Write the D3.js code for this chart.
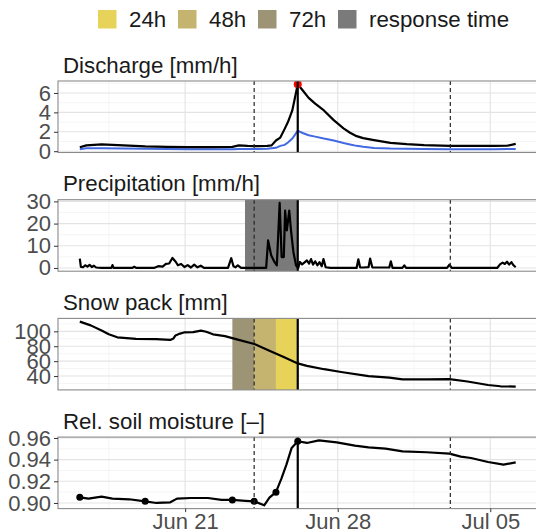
<!DOCTYPE html>
<html>
<head>
<meta charset="utf-8">
<script src="https://cdn.jsdelivr.net/npm/d3@7"></script>
<style>
  body { margin: 0; background: #fff; }
  svg { display: block; font-family: "Liberation Sans", Arial, sans-serif; }
</style>
</head>
<body>
<div id="chart"></div>
<script>
// event peak, every time below is given in days relative to it
var PEAK = new Date(2021, 5, 26, 4);

// discharge [mm/h]: observed (black) and simulated (blue)
var qT   = [-10, -9.7, -9, -8, -7, -6, -5, -4, -3, -2.7, -2.3, -1.8, -1.4, -1.2, -1.0, -0.8, -0.6, -0.45, -0.25, 0,
            0.25, 0.5, 0.8, 1.2, 1.65, 2.1, 2.4, 2.7, 3.0, 3.5, 4.25, 5, 5.8, 7, 8, 9, 9.6, 10];
var qObs = [0.4, 0.6, 0.7, 0.6, 0.5, 0.45, 0.42, 0.42, 0.45, 0.6, 0.55, 0.52, 0.55, 0.6, 1.1, 1.4, 2.3, 3.0, 4.2, 6.9,
            6.2, 5.5, 4.9, 4.2, 3.2, 2.35, 1.9, 1.55, 1.35, 1.14, 0.86, 0.72, 0.62, 0.55, 0.55, 0.55, 0.56, 0.76];
var qSim = [0.2, 0.3, 0.3, 0.28, 0.25, 0.22, 0.2, 0.2, 0.2, 0.22, 0.22, 0.22, 0.25, 0.3, 0.35, 0.55, 0.65, 0.9, 1.3, 2.1,
            1.85, 1.65, 1.5, 1.3, 1.1, 0.85, 0.7, 0.55, 0.45, 0.34, 0.27, 0.24, 0.22, 0.2, 0.2, 0.2, 0.22, 0.22];

// precipitation [mm/h]
var pT = [-10, -9.95, -9.85, -9.75, -9.65, -9.55, -9.45, -9.35, -9.25, -9.0, -8.55, -8.5, -8.45, -7.6, -7.5, -7.4,
          -6.6, -6.4, -6.2, -6.05, -5.9, -5.75, -5.6, -5.5, -5.35, -5.2, -5.05, -4.9, -4.75, -4.6, -4.45, -4.3,
          -3.2, -3.05, -2.95, -2.85, -2.75, -2.6, -1.45, -1.36, -1.22, -1.07, -0.96, -0.83, -0.74, -0.64, -0.58,
          -0.5, -0.39, -0.31, -0.2, -0.08, 0.02, 0.1, 0.2, 0.3, 0.42, 0.52, 0.61, 0.7, 0.8, 0.9, 1.0, 1.1, 1.18,
          1.28, 1.5, 2.7, 2.78, 2.86, 3.0, 3.25, 3.32, 3.42, 3.6, 4.2, 4.27, 4.35, 4.8, 4.89, 4.97, 6.85, 6.96,
          7.06, 9.15, 9.28, 9.4, 9.5, 9.6, 9.7, 9.8, 9.9, 10];
var pV = [4.2, 0.5, 0.3, 1.2, 0.6, 1.4, 0.4, 1.0, 0.2, 0, 0, 1.3, 0, 0, 0.5, 0,
          0, 0.8, 0.6, 1.8, 2.0, 4.5, 2.8, 1.2, 1.8, 0.4, 1.3, 0.2, 1.5, 0.3, 1.0, 0,
          0, 4.4, 0.8, 0.3, 1.2, 0, 0, 12.4, 5.7, 2.7, 1.2, 29.3, 4.9, 4.9, 25.8,
          16.9, 25.8, 16.9, 7.2, 1.2, 0, 2.7, 1.6, 2.4, 3.4, 2.0, 4.0, 1.5, 3.0, 1.2, 2.6, 0.8, 4.0,
          0.3, 0, 0, 3.9, 0.3, 0.2, 0.4, 4.2, 0.3, 0.2, 0.2, 3.0, 0, 0, 1.2, 0, 0, 1.5,
          0, 0, 1.6, 2.4, 1.8, 2.8, 1.5, 2.6, 1.2, 0.3];

// snow pack [mm]
var sT = [-10, -9.5, -9, -8.67, -8.28, -7.42, -6.5, -5.85, -5.7, -5.61, -5.4, -5.22, -4.8, -4.44, -4.2, -3.89, -3.34,
          -2.71, -1.99, -1.3, -0.67, 0, 0.42, 1.21, 1.99, 3.25, 4.2, 4.81, 5.91, 6.96, 7.79, 8.73, 9.3, 10];
var sV = [113, 108, 101, 96, 92, 90, 89.5, 88.5, 90.5, 94.5, 97, 98.5, 99, 101, 99.5, 96, 93.6,
          88.5, 83, 74, 66, 57, 53.7, 49.2, 45.5, 40, 38, 35.5, 35.5, 35.9, 32.7, 28, 26.3, 25.8];

// relative soil moisture [-]
var mT = [-10, -9.6, -9, -8.5, -7.73, -7, -6.48, -5.85, -5.54, -4.9, -4.12, -3.5, -3, -2.4, -2, -1.54, -1.3, -1,
          -0.75, -0.52, -0.28, 0, 0.42, 0.97, 1.79, 2.62, 3.25, 4.03, 4.81, 5.91, 6.96, 7.48, 7.95, 8.73, 9.44, 10];
var mV = [0.9052, 0.904, 0.9058, 0.904, 0.9034, 0.9015, 0.9, 0.9006, 0.904, 0.9046, 0.9046, 0.9028, 0.9028, 0.902,
          0.9015, 0.8978, 0.905, 0.910, 0.9225, 0.9354, 0.9508, 0.957, 0.9554, 0.9578, 0.956, 0.9529, 0.9514, 0.9502,
          0.9477, 0.9468, 0.9455, 0.9428, 0.9415, 0.9378, 0.9354, 0.9375];
var mPtsT = [-10, -7, -3, -2, -1, 0];
var mPtsV = [0.9052, 0.9015, 0.9028, 0.9015, 0.910, 0.957];

// event markers (days from peak)
var dashedT = [-2, 7];
var responseStart = -2.42;
var windowNames = ['24h', '48h', '72h'];
var windowColors = ['#e7d35a', '#c5b46f', '#9d9375'];
var responseColor = '#7a7a7a';

// axes
var xTicks = ['2021-06-21', '2021-06-28', '2021-07-05'];
var qTicks = [0, 2, 4, 6];
var pTicks = [0, 10, 20, 30];
var sTicks = [40, 60, 80, 100];
var mTicks = [0.90, 0.92, 0.94, 0.96];

var W = 536, H = 531;
var LEFT = 58, RIGHT = 537.5;
var PANEL_H = 71.5;
var TOPS = [81, 199.7, 318.4, 437.1];
var FONT = 22.3;      // titles + legend
var TICK_FONT = 22;

var toDate = function(t) { return new Date(PEAK.getTime() + t * 864e5); };
var parseDay = d3.timeParse('%Y-%m-%d');

var svg = d3.select('#chart').append('svg').attr('width', W).attr('height', H);

var x = d3.scaleTime().domain([toDate(-11), toDate(11)]).range([LEFT, RIGHT]);
var xMajor = xTicks.map(parseDay);
var halfWeek = 3.5 * 864e5;
var xMinor = [new Date(xMajor[0].getTime() - halfWeek)].concat(xMajor.map(function(d) {
    return new Date(d.getTime() + halfWeek);
})).filter(function(d) { return d >= x.domain()[0] && d <= x.domain()[1]; });

// legend
var legend = svg.append('g');
var legendItems = windowNames.map(function(n, i) { return {name: n, color: windowColors[i]}; })
    .concat([{name: 'response time', color: responseColor}]);
legendItems.forEach(function(item, i) {
    var kx = 98 + i * 80;
    legend.append('rect').attr('x', kx).attr('y', 10).attr('width', 18.5).attr('height', 18.5)
        .attr('fill', item.color);
    legend.append('text').attr('x', kx + 31).attr('y', 27).attr('font-size', FONT)
        .attr('fill', '#1a1a1a').text(item.name);
});

function ticksMinor(ticks, domain) {
    var step = ticks[1] - ticks[0];
    var out = [ticks[0] - step / 2];
    ticks.forEach(function(t) { out.push(t + step / 2); });
    return out.filter(function(v) { return v >= domain[0] && v <= domain[1]; });
}

function drawPanel(idx, title, values, ticks, drawContent, showX) {
    var top = TOPS[idx], bottom = top + PANEL_H;
    var ext = d3.extent(values);
    var pad = (ext[1] - ext[0]) * 0.05;
    var y = d3.scaleLinear().domain([ext[0] - pad, ext[1] + pad]).range([bottom, top]);

    var g = svg.append('g');
    g.append('text').attr('x', 63).attr('y', top - 8.5).attr('font-size', FONT)
        .attr('fill', '#1a1a1a').text(title);

    var clipId = 'clip' + idx;
    g.append('clipPath').attr('id', clipId).append('rect')
        .attr('x', LEFT).attr('y', top).attr('width', RIGHT - LEFT).attr('height', PANEL_H);
    var body = g.append('g').attr('clip-path', 'url(#' + clipId + ')');

    // grid
    ticksMinor(ticks, y.domain()).forEach(function(v) {
        body.append('line').attr('x1', LEFT).attr('x2', RIGHT).attr('y1', y(v)).attr('y2', y(v))
            .attr('stroke', '#f2f2f2').attr('stroke-width', 0.8);
    });
    xMinor.forEach(function(d) {
        body.append('line').attr('x1', x(d)).attr('x2', x(d)).attr('y1', top).attr('y2', bottom)
            .attr('stroke', '#f2f2f2').attr('stroke-width', 0.8);
    });
    ticks.forEach(function(v) {
        body.append('line').attr('x1', LEFT).attr('x2', RIGHT).attr('y1', y(v)).attr('y2', y(v))
            .attr('stroke', '#e3e3e3').attr('stroke-width', 1.1);
    });
    xMajor.forEach(function(d) {
        body.append('line').attr('x1', x(d)).attr('x2', x(d)).attr('y1', top).attr('y2', bottom)
            .attr('stroke', '#e3e3e3').attr('stroke-width', 1.1);
    });

    drawContent(body, y, top, bottom);

    // event lines
    dashedT.forEach(function(t) {
        body.append('line').attr('x1', x(toDate(t))).attr('x2', x(toDate(t)))
            .attr('y1', top).attr('y2', bottom)
            .attr('stroke', '#262626').attr('stroke-width', 1.2).attr('stroke-dasharray', '4,3');
    });
    body.append('line').attr('x1', x(toDate(0))).attr('x2', x(toDate(0)))
        .attr('y1', top).attr('y2', bottom).attr('stroke', '#000').attr('stroke-width', 2.2);

    // border
    g.append('rect').attr('x', LEFT).attr('y', top).attr('width', RIGHT - LEFT).attr('height', PANEL_H)
        .attr('fill', 'none').attr('stroke', '#8a8a8a').attr('stroke-width', 1.1);

    // y axis
    var fmt = ticks[ticks.length - 1] < 1 ? d3.format('.2f') : d3.format('d');
    var yAxis = g.append('g').attr('transform', 'translate(' + LEFT + ',0)')
        .call(d3.axisLeft(y).tickValues(ticks).tickSize(4).tickPadding(3).tickFormat(fmt));
    yAxis.select('.domain').remove();
    yAxis.selectAll('line').attr('stroke', '#333');
    yAxis.selectAll('text').attr('font-size', TICK_FONT).attr('fill', '#4d4d4d')
        .attr('font-family', '"Liberation Sans", Arial, sans-serif');

    if (showX) {
        var xAxis = g.append('g').attr('transform', 'translate(0,' + bottom + ')')
            .call(d3.axisBottom(x).tickValues(xMajor).tickSize(3.5).tickPadding(1.5)
                .tickFormat(d3.timeFormat('%b %d')));
        xAxis.select('.domain').remove();
        xAxis.selectAll('line').attr('stroke', '#333');
        xAxis.selectAll('text').attr('font-size', TICK_FONT).attr('fill', '#4d4d4d')
            .attr('font-family', '"Liberation Sans", Arial, sans-serif');
    }
}

function series(ts, vs, y) {
    return d3.line()
        .x(function(d) { return x(toDate(d[0])); })
        .y(function(d) { return y(d[1]); })(d3.zip(ts, vs));
}

drawPanel(0, 'Discharge [mm/h]', qObs.concat(qSim), qTicks, function(body, y) {
    body.append('path').attr('d', series(qT, qSim, y)).attr('fill', 'none')
        .attr('stroke', '#4169e1').attr('stroke-width', 2);
    body.append('path').attr('d', series(qT, qObs, y)).attr('fill', 'none')
        .attr('stroke', '#000').attr('stroke-width', 2.2).attr('stroke-linejoin', 'round');
    body.append('circle').attr('cx', x(toDate(0))).attr('cy', y(d3.max(qObs))).attr('r', 4)
        .attr('fill', '#ff0000');
}, false);

drawPanel(1, 'Precipitation [mm/h]', pV, pTicks, function(body, y, top, bottom) {
    body.append('rect').attr('x', x(toDate(responseStart))).attr('y', top)
        .attr('width', x(toDate(0)) - x(toDate(responseStart))).attr('height', bottom - top)
        .attr('fill', responseColor);
    body.append('path').attr('d', series(pT, pV, y)).attr('fill', 'none')
        .attr('stroke', '#000').attr('stroke-width', 2.2).attr('stroke-linejoin', 'round');
}, false);

drawPanel(2, 'Snow pack [mm]', sV, sTicks, function(body, y, top, bottom) {
    // 72h, 48h, 24h windows before the peak
    [3, 2, 1].forEach(function(days) {
        body.append('rect').attr('x', x(toDate(-days))).attr('y', top)
            .attr('width', x(toDate(-days + 1)) - x(toDate(-days))).attr('height', bottom - top)
            .attr('fill', windowColors[days - 1]);
    });
    body.append('path').attr('d', series(sT, sV, y)).attr('fill', 'none')
        .attr('stroke', '#000').attr('stroke-width', 2.2).attr('stroke-linejoin', 'round');
}, false);

drawPanel(3, 'Rel. soil moisture [\u2013]', mV, mTicks, function(body, y) {
    body.append('path').attr('d', series(mT, mV, y)).attr('fill', 'none')
        .attr('stroke', '#000').attr('stroke-width', 2.2).attr('stroke-linejoin', 'round');
    mPtsT.forEach(function(t, i) {
        body.append('circle').attr('cx', x(toDate(t))).attr('cy', y(mPtsV[i])).attr('r', 3.5)
            .attr('fill', '#000');
    });
}, true);
</script>
</body>
</html>
